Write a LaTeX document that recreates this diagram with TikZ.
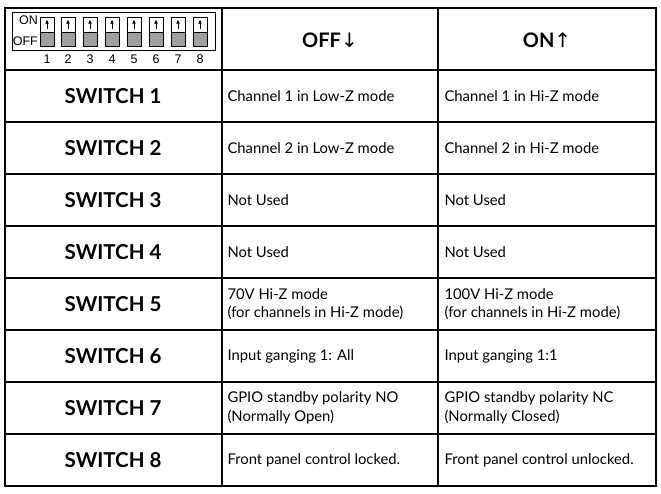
\documentclass[tikz,border=0pt]{standalone}
\usepackage{fontspec}
\usetikzlibrary{arrows.meta}
\setmainfont{Lato}
\newfontfamily\arrowfont{DejaVu Sans}
\newfontfamily\dipfont{Liberation Sans}
\begin{document}
\begin{tikzpicture}[x=1pt,y=-1pt,
  grid/.style={line width=1.6pt},
  sw/.style={font=\fontsize{20.5}{23}\selectfont\bfseries, anchor=center},
  cell/.style={font=\fontsize{14.8}{18.5}\selectfont, anchor=west, align=left},
  hd/.style={font=\fontsize{20}{23}\selectfont\bfseries, anchor=center},
  dip/.style={font=\dipfont\fontsize{12.5}{13}\selectfont, inner sep=1pt}]
\useasboundingbox (0,0) rectangle (661,493);
\fill[white] (0,0) rectangle (661,493);
% grid
\draw[grid] (5,8) rectangle (656,486);
\foreach \x in {222,438} \draw[grid] (\x,8) -- (\x,486);
\foreach \y in {70,122,174,226,278,330,382,434} \draw[grid] (5,\y) -- (656,\y);
% header
\node[hd] (hoff) at (330,40) {OFF{\arrowfont\mdseries ↓}};
\node[hd] (hon) at (547,40) {ON{\arrowfont\mdseries ↑}};
% DIP switch
\draw[line width=0.6pt] (12,12) rectangle (215,50);
\node[dip, anchor=east] (on) at (39,20) {ON};
\node[dip, anchor=east] (off) at (39,41) {OFF};
\foreach \i/\x in {1/47,2/68,3/90,4/112,5/134,6/156,7/178,8/200}{
  \fill[gray!75] (\x-7,32) rectangle (\x+7,46);
  \draw[line width=0.6pt] (\x-7,17) rectangle (\x+7,46);
  \draw[line width=0.8pt] (\x-7,32) -- (\x+7,32);
  \draw[-{Latex[length=4pt,width=3.5pt]}, line width=0.5pt] (\x,29) -- (\x,19.5);
  \node[dip] (n\i) at (\x,59) {\i};
}
% rows
\foreach \i/\y/\a/\b in {
 1/96/{Channel 1 in Low-Z mode}/{Channel 1 in Hi-Z mode},
 2/148/{Channel 2 in Low-Z mode}/{Channel 2 in Hi-Z mode},
 3/200/{Not Used}/{Not Used},
 4/252/{Not Used}/{Not Used},
 5/304/{70V Hi-Z mode\\(for channels in Hi-Z mode)}/{100V Hi-Z mode\\(for channels in Hi-Z mode)},
 6/356/{Input ganging 1: All}/{Input ganging 1:1},
 7/408/{GPIO standby polarity NO\\(Normally Open)}/{GPIO standby polarity NC\\(Normally Closed)},
 8/460/{Front panel control locked.}/{Front panel control unlocked.}}{
  \node[sw] (s\i) at (113,\y) {SWITCH \i};
  \node[cell] (a\i) at (224,\y) {\a};
  \node[cell] (b\i) at (441,\y) {\b};
}
\end{tikzpicture}
\end{document}
